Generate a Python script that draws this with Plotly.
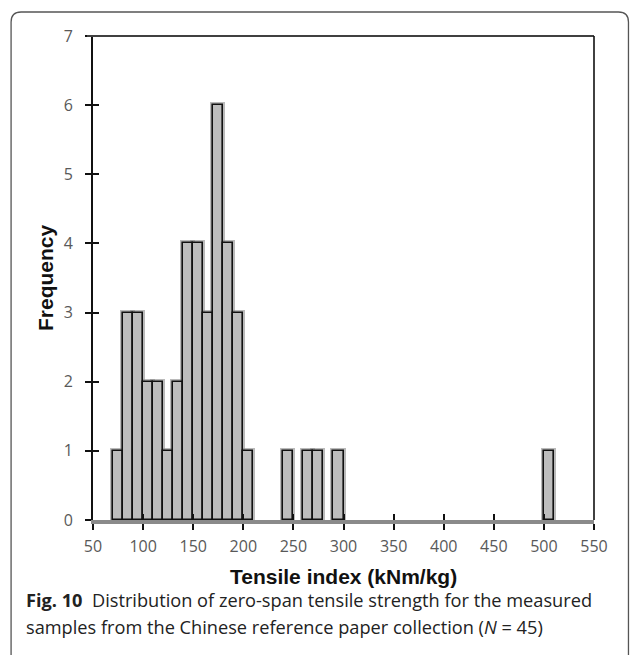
import plotly.graph_objects as go

# Histogram of zero-span tensile index (bin width 10 kNm/kg)
bin_left = [70, 80, 90, 100, 110, 120, 130, 140, 150, 160, 170, 180, 190, 200,
            240, 260, 270, 290, 500]
counts = [1, 3, 3, 2, 2, 1, 2, 4, 4, 3, 6, 4, 3, 1,
          1, 1, 1, 1, 1]
bin_width = 10

x_ticks = [50, 100, 150, 200, 250, 300, 350, 400, 450, 500, 550]
y_ticks = [0, 1, 2, 3, 4, 5, 6, 7]

W, H = 630, 655
L, R, T, B = 93, 35.5, 36, 135
pw, ph = W - L - R, H - T - B


def px(xp):
    return (xp - L) / pw


def py(yp):
    return (H - B - yp) / ph


fig = go.Figure()

# soft grey halo behind the bars
fig.add_trace(go.Bar(
    x=bin_left, y=counts, width=bin_width, offset=0,
    marker=dict(color="#bdbdbd", line=dict(color="rgba(140,140,140,0.6)", width=5)),
    hoverinfo="skip", showlegend=False,
))
# bars with dark outline
fig.add_trace(go.Bar(
    x=bin_left, y=counts, width=bin_width, offset=0,
    marker=dict(color="#bdbdbd", line=dict(color="#111111", width=1.6)),
    showlegend=False,
))

tick_font = dict(family="Open Sans, sans-serif", size=16, color="#595959")

fig.update_layout(
    width=W, height=H,
    margin=dict(l=L, r=R, t=T, b=B),
    paper_bgcolor="white", plot_bgcolor="white",
    barmode="overlay", bargap=0,
    xaxis=dict(range=[50, 550], tickvals=x_ticks, showgrid=False, zeroline=False,
               showline=True, linecolor="#8a8a8a", linewidth=4,
               ticks="outside", ticklen=6, tickwidth=1.6, tickcolor="#111111",
               tickfont=tick_font, ticklabelstandoff=3),
    yaxis=dict(range=[0, 7], tickvals=y_ticks, showgrid=False, zeroline=False,
               showline=True, linecolor="#111111", linewidth=1.6,
               ticks="outside", ticklen=6, tickwidth=1.6, tickcolor="#111111",
               tickfont=tick_font, ticklabelstandoff=9),
    # inner halves of the crossing tick marks
    xaxis2=dict(overlaying="x", range=[50, 550], tickvals=x_ticks, side="bottom",
                ticks="inside", ticklen=6, tickwidth=1.6, tickcolor="#111111",
                showticklabels=False, showgrid=False, zeroline=False, showline=False),
    yaxis2=dict(overlaying="y", range=[0, 7], tickvals=y_ticks, side="left",
                ticks="inside", ticklen=6, tickwidth=1.6, tickcolor="#111111",
                showticklabels=False, showgrid=False, zeroline=False, showline=False),
)

# dummy trace so the secondary axes are drawn
fig.add_trace(go.Scatter(x=[50], y=[0], xaxis="x2", yaxis="y2", mode="markers",
                         marker=dict(opacity=0), hoverinfo="skip", showlegend=False))

# plot-area border: top and right
fig.add_shape(type="line", xref="paper", yref="paper", x0=px(87), x1=1, y0=1, y1=1,
              line=dict(color="#404040", width=2))
fig.add_shape(type="line", xref="paper", yref="paper", x0=1, x1=1, y0=0, y1=1,
              line=dict(color="#111111", width=1.6))

# rounded figure frame
x_l, x_r, y_t, y_b, r = 11, 629, 12, 662, 10
path = (f"M {px(x_l)},{py(y_b)} L {px(x_l)},{py(y_t + r)} "
        f"Q {px(x_l)},{py(y_t)} {px(x_l + r)},{py(y_t)} "
        f"L {px(x_r - r)},{py(y_t)} "
        f"Q {px(x_r)},{py(y_t)} {px(x_r)},{py(y_t + r)} "
        f"L {px(x_r)},{py(y_b)}")
fig.add_shape(type="path", xref="paper", yref="paper", path=path,
              line=dict(color="#555555", width=1.3))

title_font = dict(family="Liberation Sans, Arial, sans-serif", size=21, color="#111111")
fig.add_annotation(text="<b>Tensile index (kNm/kg)</b>", xref="paper", yref="paper",
                   x=0.5, y=py(576), xanchor="center", yanchor="middle",
                   showarrow=False, font=title_font)
fig.add_annotation(text="<b>Frequency</b>", xref="paper", yref="paper",
                   x=px(45), y=0.5, xanchor="center", yanchor="middle", textangle=-90,
                   showarrow=False, font=title_font)

cap_font = dict(family="Open Sans, sans-serif", size=18.2, color="#222222")
fig.add_annotation(text="<b>Fig. 10</b>  Distribution of zero-span tensile strength for the measured",
                   xref="paper", yref="paper", x=px(24), y=py(600),
                   xanchor="left", yanchor="middle", showarrow=False, font=cap_font)
fig.add_annotation(text="samples from the Chinese reference paper collection (<i>N</i> = 45)",
                   xref="paper", yref="paper", x=px(24), y=py(627),
                   xanchor="left", yanchor="middle", showarrow=False, font=cap_font)

fig.write_html("out.html")
